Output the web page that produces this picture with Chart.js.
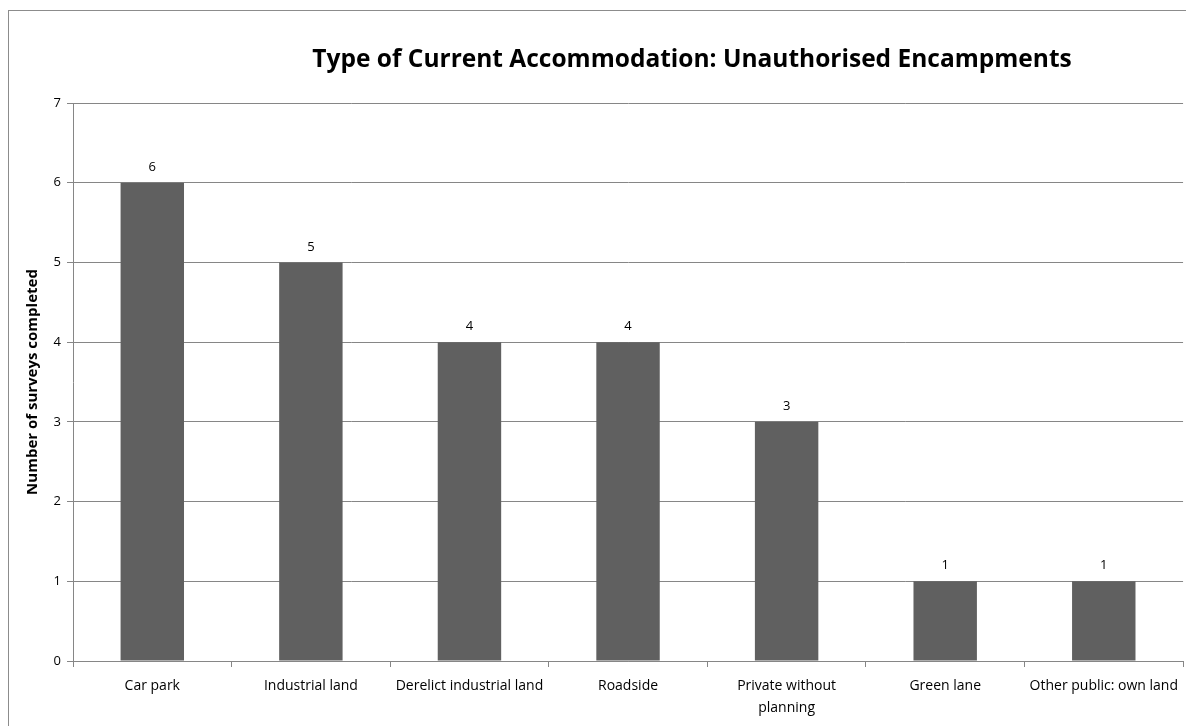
<!DOCTYPE html>
<html>
<head>
<meta charset="utf-8">
<script src="https://cdn.jsdelivr.net/npm/chart.js@4/dist/chart.umd.min.js"></script>
<style>
    html, body { margin: 0; padding: 0; background: #fff; overflow: hidden; }
    #frame {
        position: absolute; left: 8px; top: 10px; width: 1300px; height: 800px;
        border: 1px solid #8c8c8c; box-sizing: border-box;
    }
    #wrap { position: absolute; left: 0; top: 0; width: 1186px; height: 726px; }
</style>
</head>
<body>
<div id="frame"></div>
<div id="wrap"><canvas id="accChart" width="1186" height="726"></canvas></div>
<script>
const categories = ['Car park', 'Industrial land', 'Derelict industrial land', 'Roadside',
    ['Private without', 'planning'], 'Green lane', 'Other public: own land'];
const surveys = [6, 5, 4, 4, 3, 1, 1];
const yTicks = [0, 1, 2, 3, 4, 5, 6, 7];

const FONT = "'Open Sans', sans-serif";
const GRID = '#868686';

// value labels above each bar
const valueLabels = {
    id: 'valueLabels',
    afterDatasetsDraw(chart) {
        const ctx = chart.ctx;
        const meta = chart.getDatasetMeta(0);
        ctx.save();
        ctx.font = '13px ' + FONT;
        ctx.fillStyle = '#000';
        ctx.textAlign = 'center';
        ctx.textBaseline = 'bottom';
        meta.data.forEach((bar, i) => {
            ctx.fillText(surveys[i], bar.x, bar.y - 9);
        });
        ctx.restore();
    }
};

// title centred on the whole (wider) chart frame
const frameTitle = {
    id: 'frameTitle',
    afterDraw(chart) {
        const ctx = chart.ctx;
        ctx.save();
        ctx.font = 'bold 24.5px ' + FONT;
        ctx.fillStyle = '#000';
        ctx.textAlign = 'center';
        ctx.textBaseline = 'middle';
        ctx.fillText('Type of Current Accommodation: Unauthorised Encampments', 692, 60);
        ctx.restore();
    }
};

new Chart(document.getElementById('accChart').getContext('2d'), {
    type: 'bar',
    data: {
        labels: categories,
        datasets: [{
            data: surveys,
            backgroundColor: '#606060',
            borderWidth: 0,
            barPercentage: 0.4,
            categoryPercentage: 1.0
        }]
    },
    options: {
        responsive: false,
        animation: false,
        layout: { padding: { top: 103, left: 24, right: -3, bottom: 0 } },
        plugins: {
            legend: { display: false },
            title: { display: false },
            tooltip: { enabled: false }
        },
        scales: {
            x: {
                grid: { display: true, drawOnChartArea: false, color: GRID, tickLength: 6, offset: true },
                border: { color: GRID },
                ticks: { color: '#000', font: { family: FONT, size: 14, lineHeight: 1.57 }, padding: 8, maxRotation: 0, autoSkip: false },
                afterFit(axis) { axis.height = 65; }
            },
            y: {
                min: 0,
                max: 7,
                afterBuildTicks(axis) { axis.ticks = yTicks.map(v => ({ value: v })); },
                grid: { color: GRID, tickLength: 6 },
                border: { color: GRID },
                ticks: { color: '#000', font: { family: FONT, size: 13 }, padding: 6 },
                title: {
                    display: true,
                    text: 'Number of surveys completed',
                    color: '#000',
                    font: { family: FONT, size: 15, weight: 'bold' },
                    padding: { top: 0, bottom: 0 }
                },
                afterFit(axis) { axis.width = 49; }
            }
        }
    },
    plugins: [valueLabels, frameTitle]
});
</script>
</body>
</html>
